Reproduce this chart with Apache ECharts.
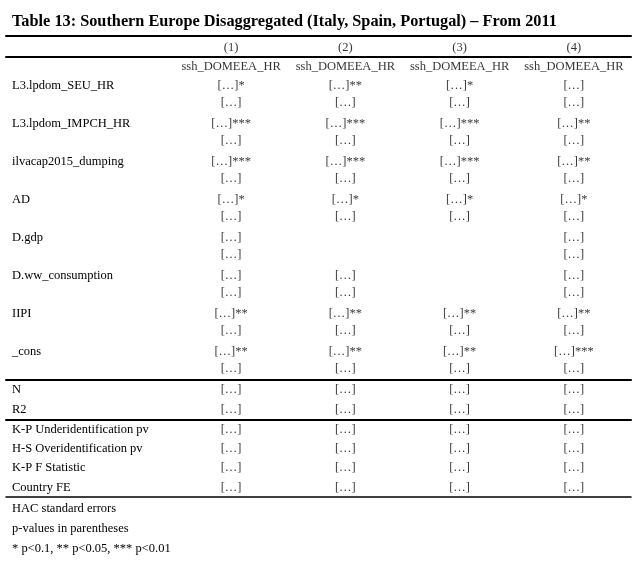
<!DOCTYPE html>
<html><head><meta charset="utf-8">
<script src="https://cdn.jsdelivr.net/npm/echarts@6/dist/echarts.min.js"></script>
<style>html,body{margin:0;padding:0;background:#fff}#c{width:633px;height:565px}</style>
</head><body><div id="c"></div>
<script>
// ---------- data ----------
const titleText = "Table 13: Southern Europe Disaggregated (Italy, Spain, Portugal) \u2013 From 2011";
const columnHeaders = ["(1)", "(2)", "(3)", "(4)"];
const depVars = ["ssh_DOMEEA_HR", "ssh_DOMEEA_HR", "ssh_DOMEEA_HR", "ssh_DOMEEA_HR"];
const variables = ["L3.lpdom_SEU_HR", "L3.lpdom_IMPCH_HR", "ilvacap2015_dumping", "AD", "D.gdp", "D.ww_consumption", "IIPI", "_cons"];
const coefCells = [
  ["[\u2026]*",   "[\u2026]**",  "[\u2026]*",   "[\u2026]"],
  ["[\u2026]***", "[\u2026]***", "[\u2026]***", "[\u2026]**"],
  ["[\u2026]***", "[\u2026]***", "[\u2026]***", "[\u2026]**"],
  ["[\u2026]*",   "[\u2026]*",   "[\u2026]*",   "[\u2026]*"],
  ["[\u2026]",    null,          null,          "[\u2026]"],
  ["[\u2026]",    "[\u2026]",    null,          "[\u2026]"],
  ["[\u2026]**",  "[\u2026]**",  "[\u2026]**",  "[\u2026]**"],
  ["[\u2026]**",  "[\u2026]**",  "[\u2026]**",  "[\u2026]***"]
];
const seCells = [
  ["[\u2026]", "[\u2026]", "[\u2026]", "[\u2026]"],
  ["[\u2026]", "[\u2026]", "[\u2026]", "[\u2026]"],
  ["[\u2026]", "[\u2026]", "[\u2026]", "[\u2026]"],
  ["[\u2026]", "[\u2026]", "[\u2026]", "[\u2026]"],
  ["[\u2026]", null,       null,       "[\u2026]"],
  ["[\u2026]", "[\u2026]", null,       "[\u2026]"],
  ["[\u2026]", "[\u2026]", "[\u2026]", "[\u2026]"],
  ["[\u2026]", "[\u2026]", "[\u2026]", "[\u2026]"]
];
const statRows = ["N", "R2"];
const statCells = [
  ["[\u2026]", "[\u2026]", "[\u2026]", "[\u2026]"],
  ["[\u2026]", "[\u2026]", "[\u2026]", "[\u2026]"]
];
const diagRows = ["K-P Underidentification pv", "H-S Overidentification pv", "K-P F Statistic", "Country FE"];
const diagCells = [
  ["[\u2026]", "[\u2026]", "[\u2026]", "[\u2026]"],
  ["[\u2026]", "[\u2026]", "[\u2026]", "[\u2026]"],
  ["[\u2026]", "[\u2026]", "[\u2026]", "[\u2026]"],
  ["[\u2026]", "[\u2026]", "[\u2026]", "[\u2026]"]
];
const notes = ["HAC standard errors", "p-values in parentheses", "* p<0.1, ** p<0.05, *** p<0.01"];

// ---------- build sections ----------
const bodyRows = [""], bodyCells = [depVars], bodyKinds = ["head"];
variables.forEach((v, i) => {
  bodyRows.push(v, ""); bodyCells.push(coefCells[i], seCells[i]); bodyKinds.push("coef", "se");
});

const sections = [
  { rows: [""], cells: [columnHeaders], kinds: ["colhead"] },
  { rows: bodyRows, cells: bodyCells, kinds: bodyKinds },
  { rows: statRows, cells: statCells, kinds: statRows.map(() => "stat") },
  { rows: diagRows, cells: diagCells, kinds: diagRows.map(() => "stat") },
  { rows: notes, cells: [], kinds: notes.map(() => "note") }
];

// ---------- layout / style ----------
const FONT = "Liberation Serif";
const FS = 12.5;
const edges = [36, 57, 380, 420, 497, 559];
const gridTops = [36, 57, 380, 420, 499];
const ruleWidth = [2, 2, 2, 1.5, 0];
const X_MIN = -0.97, X_MAX = 4.5;
const SHIFT = { se: -1.5, colhead: 1.5 };

const grids = [], xAxes = [], yAxes = [], series = [];
sections.forEach((s, g) => {
  grids.push({ left: 6, right: 2, top: gridTops[g], height: edges[g + 1] - gridTops[g], containLabel: false });
  const baseX = {
    type: 'value', gridIndex: g, min: X_MIN, max: X_MAX,
    axisTick: { show: false }, axisLabel: { show: false }, splitLine: { show: false }
  };
  xAxes.push(Object.assign({}, baseX, {
    position: 'bottom',
    axisLine: { show: ruleWidth[g] > 0, onZero: false, lineStyle: { color: '#000', width: ruleWidth[g] || 1 } }
  }));
  if (g === 0) {
    xAxes.push(Object.assign({}, baseX, {
      position: 'top',
      axisLine: { show: true, onZero: false, lineStyle: { color: '#000', width: 2 } }
    }));
  }
  const rowsCopy = s.rows;
  yAxes.push({
    type: 'category', gridIndex: g, inverse: true,
    data: rowsCopy.map((r, i) => g + '_' + i),
    axisLine: { show: false }, axisTick: { show: false }, splitLine: { show: false },
    axisLabel: {
      show: true, inside: true, margin: 6, align: 'left', interval: 0,
      color: '#000', fontFamily: FONT, fontSize: FS,
      formatter: (v, i) => rowsCopy[i]
    }
  });
  const data = [];
  s.cells.forEach((row, r) => row.forEach((txt, c) => {
    if (!txt) return;
    const item = { value: [c + 1, r, txt] };
    const sh = SHIFT[s.kinds[r]];
    if (sh) item.label = { offset: [0, sh] };
    data.push(item);
  }));
  series.push({
    type: 'scatter', xAxisIndex: xAxes.length - (g === 0 ? 2 : 1), yAxisIndex: g,
    symbol: 'circle', symbolSize: 1, itemStyle: { color: 'transparent' },
    data: data, silent: true,
    label: {
      show: true, position: 'inside', color: '#000', fontFamily: FONT, fontSize: FS,
      formatter: p => p.value[2]
    }
  });
});

const chart = echarts.init(document.getElementById('c'), null, { renderer: 'canvas' });
chart.setOption({
  backgroundColor: '#fff',
  animation: false,
  title: {
    text: titleText, left: 12, top: 13.5, padding: 0,
    textStyle: { fontFamily: FONT, fontSize: 16.3, fontWeight: 'bold', color: '#000' }
  },
  grid: grids, xAxis: xAxes, yAxis: yAxes, series: series
});
</script></body></html>
